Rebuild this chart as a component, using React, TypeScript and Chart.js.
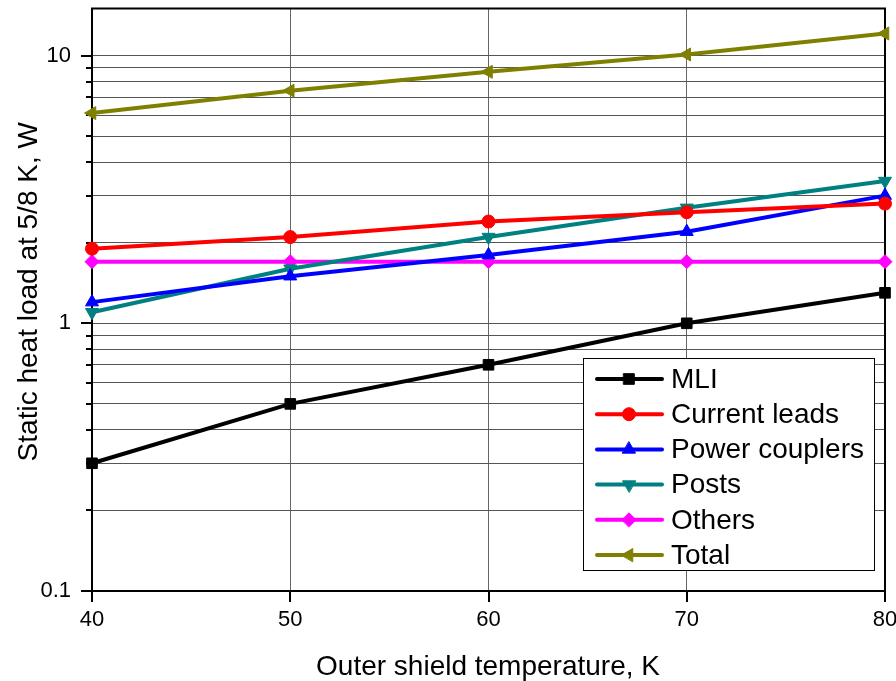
import React, { useEffect, useRef } from 'react';
import { Chart, registerables } from 'chart.js';
import { drawPoint } from 'chart.js/helpers';

Chart.register(...registerables);

// ---- data ----
const temperatures = [40, 50, 60, 70, 80];
const mli = [0.3, 0.5, 0.7, 1.0, 1.3];
const currentLeads = [1.9, 2.1, 2.4, 2.6, 2.8];
const powerCouplers = [1.2, 1.5, 1.8, 2.2, 3.0];
const posts = [1.1, 1.6, 2.1, 2.7, 3.4];
const others = [1.7, 1.7, 1.7, 1.7, 1.7];
const total = [6.1, 7.4, 8.7, 10.1, 12.1];

const seriesNames = ['MLI', 'Current leads', 'Power couplers', 'Posts', 'Others', 'Total'];
const seriesValues = [mli, currentLeads, powerCouplers, posts, others, total];
const seriesColors = ['#000000', '#ff0000', '#0000ff', '#008080', '#ff00ff', '#808000'];
const seriesMarkers = ['rect', 'circle', 'triangle', 'triangle', 'rectRot', 'triangle'];
const markerRotations = [0, 0, 0, 180, 0, 270];
const markerRadii = [7.5, 6.5, 7.5, 7.5, 7, 7.5];

const xTickValues = [40, 50, 60, 70, 80];
const yGridValues = [0.1, 0.2, 0.3, 0.4, 0.5, 0.6, 0.7, 0.8, 0.9, 1, 2, 3, 4, 5, 6, 7, 8, 9, 10];
const yLabelValues = [0.1, 1, 10];
const xMin = 40;
const xMax = 80;
const yMin = 0.1;
const yMax = 15;
const xTitle = 'Outer shield temperature, K';
const yTitle = 'Static heat load at 5/8 K, W';

const FONT = "'Liberation Sans', Arial, sans-serif";

const framePlugin = {
  id: 'frame',
  beforeDatasetsDraw(chart: any) {
    const { ctx, chartArea } = chart;
    const { left, right, top, bottom } = chartArea;
    const yScale = chart.scales.y;
    const xScale = chart.scales.x;
    ctx.save();
    ctx.strokeStyle = '#000';
    ctx.lineWidth = 2;
    yGridValues.forEach((v) => {
      const y = Math.round(yScale.getPixelForValue(v));
      const major = yLabelValues.includes(v);
      const len = major ? 11 : 6;
      ctx.beginPath();
      ctx.moveTo(left - len, y);
      ctx.lineTo(left, y);
      ctx.stroke();
    });
    xTickValues.forEach((v) => {
      const x = Math.round(xScale.getPixelForValue(v));
      ctx.beginPath();
      ctx.moveTo(x, bottom);
      ctx.lineTo(x, bottom + 11);
      ctx.stroke();
    });
    ctx.strokeRect(left, top, right - left, bottom - top);
    ctx.fillStyle = '#000';
    ctx.font = `28px ${FONT}`;
    ctx.textAlign = 'center';
    ctx.textBaseline = 'alphabetic';
    ctx.fillText(xTitle, (left + right) / 2 - 0.5, 675);
    ctx.save();
    ctx.translate(37, (top + bottom) / 2 - 8);
    ctx.rotate(-Math.PI / 2);
    ctx.fillText(yTitle, 0, 0);
    ctx.restore();
    ctx.restore();
  },
  afterDatasetsDraw(chart: any) {
    const { ctx } = chart;
    ctx.save();
    const bx = 583, by = 358, bw = 292, bh = 213;
    ctx.fillStyle = '#fff';
    ctx.fillRect(bx, by, bw, bh);
    ctx.strokeStyle = '#000';
    ctx.lineWidth = 1;
    ctx.strokeRect(bx + 0.5, by + 0.5, bw - 1, bh - 1);
    chart.data.datasets.forEach((ds: any, i: number) => {
      const y = 379 + i * 35.2;
      ctx.strokeStyle = ds.borderColor;
      ctx.fillStyle = ds.borderColor;
      ctx.lineWidth = 4;
      ctx.lineCap = 'round';
      ctx.beginPath();
      ctx.moveTo(597, y);
      ctx.lineTo(662, y);
      ctx.stroke();
      ctx.lineWidth = 1;
      drawPoint(ctx, { pointStyle: ds.pointStyle, rotation: ds.pointRotation, radius: ds.pointRadius, borderWidth: 1 } as any, 629, y);
      ctx.fillStyle = '#000';
      ctx.font = `28px ${FONT}`;
      ctx.textAlign = 'left';
      ctx.textBaseline = 'middle';
      ctx.fillText(ds.label, 671, y + 1);
    });
    ctx.restore();
  },
};

export default function App() {
  const canvasRef = useRef<HTMLCanvasElement | null>(null);

  useEffect(() => {
    document.body.style.margin = '0';
    const canvas = canvasRef.current;
    if (!canvas) return;
    const datasets = seriesNames.map((name, i) => ({
      label: name,
      data: temperatures.map((t, j) => ({ x: t, y: seriesValues[i][j] })),
      borderColor: seriesColors[i],
      backgroundColor: seriesColors[i],
      borderWidth: 4,
      pointStyle: seriesMarkers[i],
      pointRotation: markerRotations[i],
      pointRadius: markerRadii[i],
      pointBackgroundColor: seriesColors[i],
      pointBorderColor: seriesColors[i],
      pointBorderWidth: 1,
      tension: 0,
      clip: false as any,
    }));
    const chart = new Chart(canvas, {
      type: 'line',
      data: { datasets },
      options: {
        responsive: false,
        animation: false,
        devicePixelRatio: 1,
        layout: { padding: { top: 7, right: 11, left: 0, bottom: 0 } },
        plugins: { legend: { display: false }, tooltip: { enabled: false } },
        scales: {
          x: {
            type: 'linear',
            min: xMin,
            max: xMax,
            afterBuildTicks: (scale: any) => {
              scale.ticks = xTickValues.map((v) => ({ value: v }));
            },
            afterFit: (scale: any) => {
              scale.height = 90;
              scale.paddingLeft = 0;
              scale.paddingRight = 0;
            },
            grid: { color: '#666', lineWidth: 1, drawTicks: false },
            border: { display: false },
            ticks: {
              autoSkip: false,
              maxRotation: 0,
              padding: 16,
              color: '#000',
              font: { family: FONT, size: 22 },
              callback: (v: any) => String(v),
            },
          },
          y: {
            type: 'logarithmic',
            min: yMin,
            max: yMax,
            afterBuildTicks: (scale: any) => {
              scale.ticks = yGridValues.map((v) => ({ value: v, major: yLabelValues.includes(v) }));
            },
            afterFit: (scale: any) => {
              scale.width = 92;
              scale.paddingTop = 0;
              scale.paddingBottom = 0;
            },
            grid: { color: '#555', lineWidth: 1, drawTicks: false },
            border: { display: false },
            ticks: {
              autoSkip: false,
              padding: 21,
              color: '#000',
              font: { family: FONT, size: 22 },
              callback: (v: any) => (yLabelValues.includes(Number(v)) ? String(v) : ''),
            },
          },
        },
      },
      plugins: [framePlugin],
    } as any);
    return () => chart.destroy();
  }, []);

  return <canvas ref={canvasRef} width={896} height={681} style={{ display: 'block', width: 896, height: 681 }} />;
}
